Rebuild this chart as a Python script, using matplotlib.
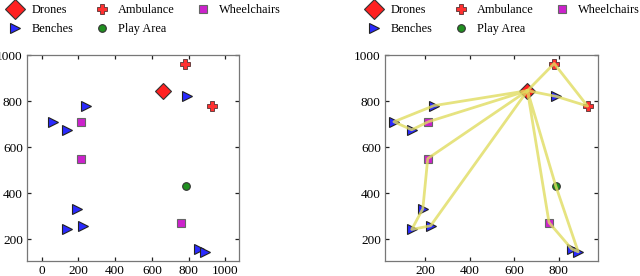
import numpy as np
import matplotlib
matplotlib.use('Agg')
from matplotlib import pyplot as plt

# site positions
drone_x = [660]
drone_y = [845]
amb_x = [780, 930]
amb_y = [963, 778]
bench_x = [790, 240, 60, 140, 190, 140, 225, 858, 888]
bench_y = [820, 780, 710, 675, 332, 242, 258, 158, 145]
wheel_x = [215, 212, 757]
wheel_y = [710, 550, 272]
play_x = [787]
play_y = [432]

# drone tours (closed loops starting from the drone)
tour1_x = [660, 240, 60, 140, 215, 660]
tour1_y = [845, 780, 710, 675, 710, 845]
tour2_x = [660, 212, 190, 140, 225, 660]
tour2_y = [845, 550, 332, 242, 258, 845]
tour3_x = [660, 757, 858, 888, 787, 660]
tour3_y = [845, 272, 158, 145, 432, 845]
tour4_x = [660, 780, 930, 790, 660]
tour4_y = [845, 963, 778, 820, 845]
tours = [(tour1_x, tour1_y), (tour2_x, tour2_y), (tour3_x, tour3_y), (tour4_x, tour4_y)]

plt.rcParams['font.family'] = ['Liberation Serif', 'DejaVu Serif']
plt.rcParams['font.size'] = 9.5

fig = plt.figure(figsize=(6.4, 2.76), dpi=100)

def draw_sites(ax):
    ax.plot(drone_x, drone_y, 'D', ms=8, mfc='#ff2020', mec='#333333', mew=0.8, label='Drones', zorder=3)
    ax.plot(bench_x, bench_y, '>', ms=6.5, mfc='#2a2aff', mec='#222222', mew=0.8, label='Benches', zorder=3)
    ax.plot(amb_x, amb_y, 'P', ms=6.5, mfc='#ff3030', mec='#553333', mew=0.6, label='Ambulance', zorder=3)
    ax.plot(play_x, play_y, 'o', ms=5.5, mfc='#209020', mec='#333333', mew=0.8, label='Play Area', zorder=3)
    ax.plot(wheel_x, wheel_y, 's', ms=6, mfc='#cc22cc', mec='#666666', mew=0.8, label='Wheelchairs', zorder=3)

def style(ax):
    for s in ax.spines.values():
        s.set_color('#777777')
        s.set_linewidth(0.9)
    ax.tick_params(direction='in', top=True, right=True, length=3, width=0.9, color='#222222', pad=3)
    ax.set_yticks([200, 400, 600, 800, 1000])

def add_legend(ax, x0):
    leg = ax.legend(loc='upper left', bbox_to_anchor=(x0, 1.0 - 3/276), bbox_transform=fig.transFigure,
                    ncol=3, frameon=False, handlelength=1.5, handletextpad=0.55, columnspacing=1.6,
                    labelspacing=0.55, borderaxespad=0.0, borderpad=0.1, fontsize=8.8)
    leg.legend_handles[0].set_markersize(10)

ax1 = fig.add_axes([27/640, 15/276, 212/640, 206/276])
draw_sites(ax1)
ax1.set_xlim(-80, 1075)
ax1.set_ylim(105, 1000)
ax1.set_xticks([0, 200, 400, 600, 800, 1000])
style(ax1)
add_legend(ax1, 5/640)

ax2 = fig.add_axes([385/640, 15/276, 213/640, 206/276])
draw_sites(ax2)
for tx, ty in tours:
    ax2.plot(tx, ty, '-', color='#e0dc60', lw=2, alpha=0.8, zorder=4)
ax2.set_xlim(20, 977)
ax2.set_ylim(105, 1000)
ax2.set_xticks([200, 400, 600, 800])
style(ax2)
add_legend(ax2, 364/640)

fig.savefig('out.png', dpi=100)
